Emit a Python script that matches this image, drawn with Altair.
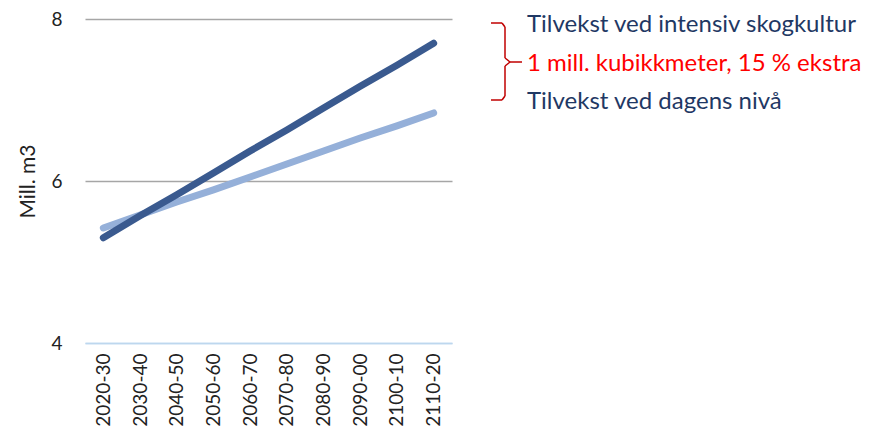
import altair as alt
import pandas as pd

periods = ["2020-30", "2030-40", "2040-50", "2050-60", "2060-70",
           "2070-80", "2080-90", "2090-00", "2100-10", "2110-20"]
intensiv = [5.30, 5.57, 5.83, 6.10, 6.37, 6.63, 6.90, 7.17, 7.43, 7.70]
dagens = [5.42, 5.58, 5.74, 5.89, 6.05, 6.21, 6.37, 6.53, 6.68, 6.84]
series_names = ["Tilvekst ved dagens nivå", "Tilvekst ved intensiv skogkultur"]
series_colors = ["#95B0D9", "#3A5A8F"]
note_texts = ["Tilvekst ved intensiv skogkultur", "1 mill. kubikkmeter, 15 % ekstra", "Tilvekst ved dagens nivå"]
note_colors = ["#1F3864", "#FF0000", "#1F3864"]

rows = []
for p, v in zip(periods, dagens):
    rows.append({"periode": p, "verdi": v, "serie": series_names[0]})
for p, v in zip(periods, intensiv):
    rows.append({"periode": p, "verdi": v, "serie": series_names[1]})
df = pd.DataFrame(rows)

FONT = "Lato"

base = alt.Chart(df)
lines = base.mark_line(strokeWidth=7, strokeCap="round", strokeJoin="round").encode(
    x=alt.X("periode:N", sort=periods, scale=alt.Scale(paddingInner=0, paddingOuter=0),
            axis=alt.Axis(title=None, labelAngle=-90, labelFontSize=19, labelFont=FONT,
                          labelColor="#222222", ticks=False, domainColor="#BDD7EE",
                          domainWidth=1.5, labelPadding=10, labelAlign="right",
                          labelBaseline="middle")),
    y=alt.Y("verdi:Q", scale=alt.Scale(domain=[4, 8], nice=False, zero=False),
            axis=alt.Axis(title="Mill. m3", values=[4, 6, 8], labelFontSize=19,
                          labelFont=FONT, labelColor="#222222", titleFont=FONT,
                          titleFontSize=21, titleFontWeight="normal", titleColor="#222222",
                          domain=False, ticks=False, labelPadding=23, titlePadding=12,
                          gridColor=alt.condition("datum.value == 4", alt.value("#BDD7EE"), alt.value("#A6A6A6")),
                          gridWidth=1.5)),
    color=alt.Color("serie:N", scale=alt.Scale(domain=series_names, range=series_colors), legend=None),
    order=alt.Order("serie:N"),
)

notes_df = pd.DataFrame({"txt": note_texts, "col": note_colors, "i": [0, 1, 2]})
notes = alt.Chart(notes_df).mark_text(align="left", baseline="middle", fontSize=24, font=FONT).encode(
    x=alt.value(442),
    y=alt.Y("i:Q", scale=alt.Scale(domain=[0, 2], range=[6, 83]), axis=None),
    text="txt:N",
    color=alt.Color("col:N", scale=None),
)

bc = "#C00000"
br = pd.DataFrame({"a": [0]})
def seg(x1, y1, x2, y2):
    return alt.Chart(br).mark_rule(color=bc, strokeWidth=1.5).encode(
        x=alt.value(x1), x2=alt.value(x2), y=alt.value(y1), y2=alt.value(y2))

bracket = alt.layer(
    seg(406, 4, 417, 4), seg(417, 4, 420, 8), seg(420, 8, 420, 39),
    seg(420, 39, 425, 43), seg(425, 43, 437, 43), seg(425, 43, 420, 47),
    seg(420, 47, 420, 77), seg(420, 77, 417, 81), seg(417, 81, 406, 81),
)

chart = alt.layer(lines, notes, bracket).properties(
    width=367, height=324,
    autosize=alt.AutoSizeParams(type="none"),
    padding={"left": 77, "top": 11, "right": 415, "bottom": 89},
).configure_view(stroke=None).resolve_scale(y="independent", color="independent")

chart.save("out.html", embed_options={"renderer": "svg", "actions": False})
